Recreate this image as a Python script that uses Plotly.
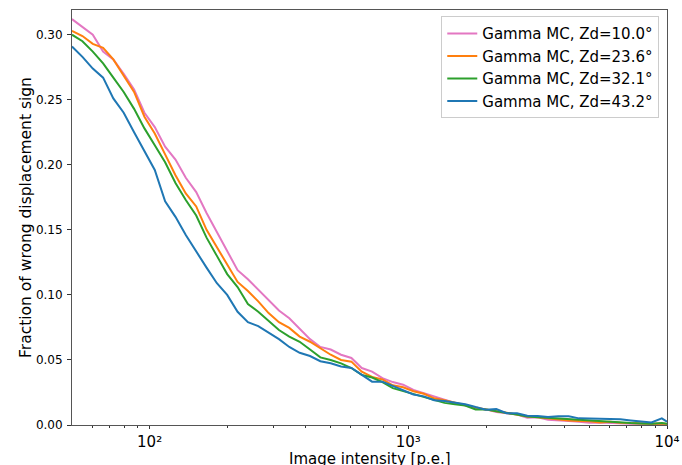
import plotly.graph_objects as go

# image intensity bin centres [p.e.]
intensity = [50.1, 55.0, 60.3, 66.1, 72.4, 79.4, 87.1, 95.5, 104.7, 114.8,
             125.9, 138.0, 151.4, 166.0, 182.0, 199.5, 218.8, 239.9, 263.0, 288.4,
             316.2, 346.7, 380.2, 416.9, 457.1, 501.2, 549.5, 602.6, 660.7, 724.4,
             794.3, 871.0, 955.0, 1047, 1148, 1259, 1380, 1514, 1660, 1820,
             1995, 2188, 2399, 2630, 2884, 3162, 3467, 3802, 4169, 4571,
             5012, 5495, 6026, 6607, 7244, 7943, 8710, 9550, 10000]

zd_10 = [0.312, 0.306, 0.300, 0.287, 0.281, 0.270, 0.258, 0.240, 0.229, 0.214,
         0.204, 0.190, 0.179, 0.163, 0.148, 0.134, 0.119, 0.112, 0.104, 0.096,
         0.088, 0.082, 0.074, 0.066, 0.060, 0.058, 0.054, 0.0515, 0.0438, 0.041,
         0.036, 0.033, 0.031, 0.027, 0.0245, 0.022, 0.019, 0.017, 0.015, 0.013,
         0.012, 0.010, 0.009, 0.008, 0.0055, 0.006, 0.004, 0.0033, 0.003, 0.0025,
         0.0018, 0.002, 0.0015, 0.0015, 0.001, 0.0012, 0.0008, 0.001, 0.0008]

zd_23 = [0.303, 0.299, 0.293, 0.290, 0.281, 0.269, 0.256, 0.237, 0.224, 0.208,
         0.192, 0.178, 0.168, 0.150, 0.137, 0.124, 0.110, 0.103, 0.095, 0.086,
         0.079, 0.0746, 0.068, 0.064, 0.059, 0.054, 0.050, 0.0487, 0.041, 0.037,
         0.035, 0.0305, 0.029, 0.026, 0.024, 0.0205, 0.019, 0.017, 0.0155, 0.0135,
         0.012, 0.011, 0.0095, 0.008, 0.0065, 0.006, 0.005, 0.004, 0.0035, 0.003,
         0.0028, 0.002, 0.0025, 0.0018, 0.0015, 0.0012, 0.001, 0.0012, 0.0008]

zd_32 = [0.300, 0.295, 0.287, 0.278, 0.267, 0.256, 0.243, 0.228, 0.215, 0.202,
         0.186, 0.173, 0.161, 0.144, 0.130, 0.116, 0.106, 0.093, 0.087, 0.080,
         0.073, 0.068, 0.064, 0.058, 0.052, 0.050, 0.0474, 0.0438, 0.0385, 0.0365,
         0.033, 0.0283, 0.026, 0.0235, 0.0215, 0.019, 0.017, 0.016, 0.015, 0.012,
         0.012, 0.0105, 0.0095, 0.008, 0.0065, 0.006, 0.005, 0.0045, 0.004, 0.0035,
         0.003, 0.0025, 0.002, 0.002, 0.0015, 0.0012, 0.001, 0.0015, 0.001]

zd_43 = [0.291, 0.283, 0.274, 0.267, 0.251, 0.240, 0.225, 0.210, 0.196, 0.172,
         0.160, 0.146, 0.133, 0.121, 0.109, 0.100, 0.087, 0.079, 0.076, 0.071,
         0.066, 0.060, 0.0555, 0.053, 0.049, 0.0474, 0.045, 0.0438, 0.0385, 0.0333,
         0.0333, 0.030, 0.027, 0.0235, 0.022, 0.019, 0.0185, 0.0172, 0.016, 0.0138,
         0.0118, 0.0122, 0.009, 0.009, 0.0072, 0.0069, 0.0062, 0.0068, 0.0068, 0.0051,
         0.005, 0.0048, 0.0045, 0.0044, 0.0035, 0.003, 0.002, 0.0051, 0.0025]

series = [
    ("Gamma MC, Zd=10.0°", zd_10, "#e377c2"),
    ("Gamma MC, Zd=23.6°", zd_23, "#ff7f0e"),
    ("Gamma MC, Zd=32.1°", zd_32, "#2ca02c"),
    ("Gamma MC, Zd=43.2°", zd_43, "#1f77b4"),
]

x_major = [100, 1000, 10000]
x_major_text = ["10²", "10³", "10⁴"]
x_minor = [60, 70, 80, 90] + [k * 100 for k in range(2, 10)] + [k * 1000 for k in range(2, 10)]
y_ticks = [0, 0.05, 0.10, 0.15, 0.20, 0.25, 0.30]

fig = go.Figure()
for name, vals, col in series:
    fig.add_trace(go.Scatter(x=intensity, y=vals, mode="lines", name=name,
                             line=dict(color=col, width=2)))

fig.update_layout(
    width=682, height=465,
    margin=dict(l=72, r=15, t=10, b=40),
    plot_bgcolor="white", paper_bgcolor="white",
    font=dict(family="DejaVu Sans", color="black", size=12),
    showlegend=True,
    legend=dict(x=0.987, y=0.985, xanchor="right", yanchor="top",
                bgcolor="white", bordercolor="#cccccc", borderwidth=1,
                font=dict(size=15), itemwidth=30, tracegroupgap=0),
)
# x-axis title as an annotation so it can sit low, half cut by the bottom edge
fig.add_annotation(text="Image intensity [p.e.]", xref="paper", yref="paper",
                   x=0.5, y=-0.081, xanchor="center", yanchor="middle",
                   showarrow=False, font=dict(size=15))
fig.update_xaxes(
    type="log", range=[1.70, 4.0],
    tickvals=x_major, ticktext=x_major_text,
    tickfont=dict(size=15),
    ticks="outside", ticklen=3, tickcolor="#333", ticklabelstandoff=0,
    minor=dict(tickvals=x_minor, ticks="outside", ticklen=2, tickcolor="#333"),
    showgrid=False, zeroline=False, automargin=False,
    showline=True, linecolor="#555", linewidth=1, mirror=True,
)
fig.update_yaxes(
    range=[0, 0.319], tickvals=y_ticks, tickformat=".2f",
    ticks="outside", ticklen=4, tickcolor="#333", ticklabelstandoff=2,
    showgrid=False, zeroline=False, automargin=False,
    showline=True, linecolor="#555", linewidth=1, mirror=True,
    title=dict(text="Fraction of wrong displacement sign", font=dict(size=15.5), standoff=0),
)

# drop the default 8px body margin so the figure fills the window exactly
fig.write_html("out.html", config={"displayModeBar": False},
               post_script="document.body.style.margin='0px';")
